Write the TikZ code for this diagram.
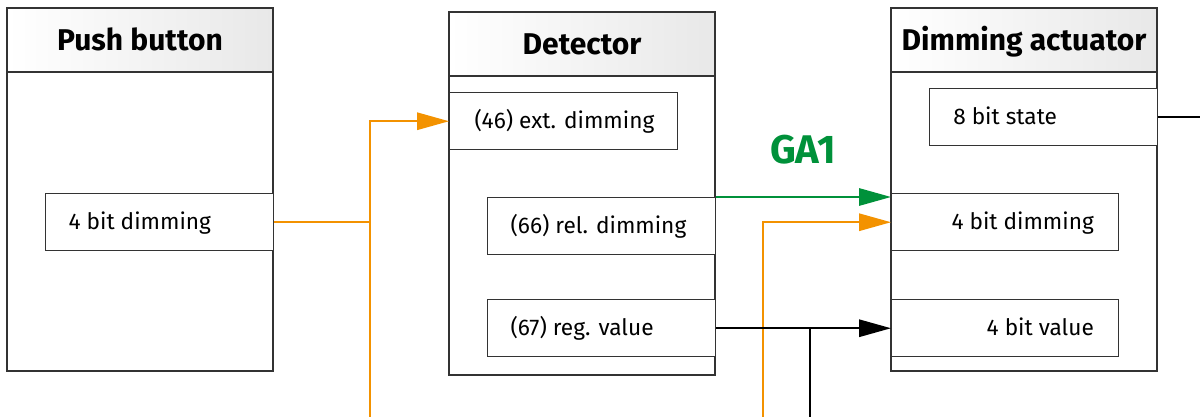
\documentclass[tikz,border=0pt]{standalone}
\usepackage{fontspec}
\setmainfont{Fira Sans}
\usetikzlibrary{arrows.meta,fit,calc}
\definecolor{kor}{HTML}{F39200}
\definecolor{kgr}{HTML}{00913A}
\definecolor{kbd}{HTML}{333333}
\begin{document}
\begin{tikzpicture}[x=0.75pt,y=-0.75pt,
  outer/.style={draw=kbd,line width=1.1pt,inner sep=0pt},
  hdr/.style={draw=kbd,line width=1.1pt,inner sep=0pt,left color=white,right color=black!9},
  ttl/.style={inner sep=0pt,anchor=base,font=\bfseries\fontsize{22.5}{26}\selectfont},
  subbox/.style={draw=kbd,line width=1.1pt,fill=white,anchor=north west,inner sep=0pt,
    minimum height=42.75pt},
  wide/.style={subbox,minimum width=171pt},
  narrow/.style={subbox,minimum width=170.25pt},
  txt/.style={inner sep=0pt,font=\fontsize{17}{20}\selectfont},
  conn/.style={line width=1.5pt},
  arr/.style={-{Triangle[length=24pt,width=13pt]}}]
\path[use as bounding box] (0,0) rectangle (1200,417);

% Push button
\node[outer,fit={(7,8)(273,371)}] (pb) {};
\node[hdr,fit={(7,8)(273,72)}] (pbh) {};
\node[ttl] (pbt) at ([yshift=-8.2pt]pbh.center) {Push button};
\node[wide] (pb4) at (45,193) {};
\node[txt,anchor=base west] (pb4t) at ([xshift=17.5pt,yshift=-5.6pt]pb4.west) {4 bit dimming};

% Detector
\node[outer,fit={(449,12)(715,375)}] (det) {};
\node[hdr,fit={(449,12)(715,76)}] (deth) {};
\node[ttl] (dett) at ([yshift=-8.2pt]deth.center) {Detector};
\node[wide] (ext) at (449,92) {};
\node[txt,anchor=base west] (extt) at ([xshift=19pt,yshift=-5.6pt]ext.west) {(46) ext. dimming};
\node[wide] (rel) at (487,197) {};
\node[txt,anchor=base west] (relt) at ([xshift=17.5pt,yshift=-5.6pt]rel.west) {(66) rel. dimming};
\node[wide] (reg) at (487,299) {};
\node[txt,anchor=base west] (regt) at ([xshift=17.5pt,yshift=-5.6pt]reg.west) {(67) reg. value};

% Dimming actuator
\node[outer,fit={(891,8)(1157,371)}] (act) {};
\node[hdr,fit={(891,8)(1157,72)}] (acth) {};
\node[ttl] (actt) at ([yshift=-8.2pt]acth.center) {Dimming actuator};
\node[wide] (st8) at (929,88) {};
\node[txt,anchor=base west] (st8t) at ([xshift=18pt,yshift=-5.6pt]st8.west) {8 bit state};
\node[narrow] (ad4) at (891,193) {};
\node[txt,anchor=base east] (ad4t) at ([xshift=-19pt,yshift=-5.6pt]ad4.east) {4 bit dimming};
\node[narrow] (av4) at (891,299) {};
\node[txt,anchor=base east] (av4t) at ([xshift=-19pt,yshift=-5.6pt]av4.east) {4 bit value};

% Group address label
\node[text=kgr,inner sep=0pt,font=\bfseries\fontsize{30}{32}\selectfont] (ga) at (803,150) {GA1};

% free ends
\coordinate (ob1) at (370,417);
\coordinate (ob2) at (763,417);
\coordinate (bb) at (810,417);
\coordinate (re) at (1200,116.5);

% connectors
\draw[conn,kor] (pb4.east) -- (pb4.east -| ob1);
\draw[conn,kor,arr] (ob1) |- (ext.west);
\draw[conn,kgr,arr] (rel.north east) -- (rel.north east -| ad4.west);
\draw[conn,kor,arr] (ob2) |- (ad4.west);
\draw[conn,arr] (reg.east) -- (av4.west);
\draw[conn] (bb) -- (bb |- reg.east);
\draw[conn] (st8.east) -- (st8.east -| re);
\end{tikzpicture}
\end{document}
